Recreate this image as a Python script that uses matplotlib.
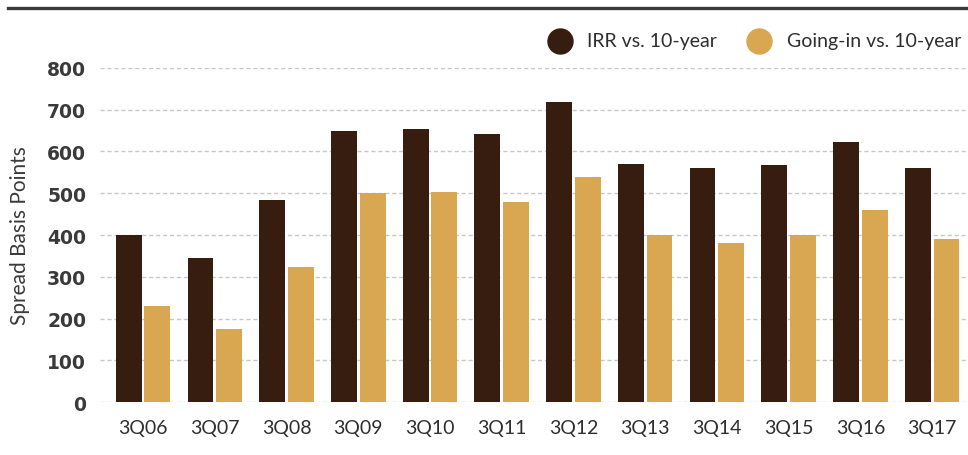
import matplotlib
matplotlib.use("Agg")
import matplotlib.pyplot as plt
import numpy as np
from matplotlib.lines import Line2D

quarters = ["3Q06", "3Q07", "3Q08", "3Q09", "3Q10", "3Q11",
            "3Q12", "3Q13", "3Q14", "3Q15", "3Q16", "3Q17"]
irr_spread = [400, 345, 485, 650, 654, 641, 718, 570, 561, 568, 622, 561]
going_in_spread = [230, 175, 324, 500, 503, 480, 538, 400, 381, 399, 461, 390]
y_ticks = [0, 100, 200, 300, 400, 500, 600, 700, 800]

DARK = "#371d0f"
GOLD = "#d9a652"
TEXT = "#2e2e2e"
LIGHT_FONT = ["Lato", "DejaVu Sans"]

fig = plt.figure(figsize=(9.68, 4.56), dpi=100)
ax = fig.add_axes([0.1033, 0.1162, 0.8967, 0.7325])

x = np.arange(len(quarters))
w = 0.36
gap = 0.02
ax.bar(x - w / 2 - gap, irr_spread, width=w, color=DARK, zorder=3)
ax.bar(x + w / 2 + gap, going_in_spread, width=w, color=GOLD, zorder=3)

ax.set_xlim(-0.6, 11.5)
ax.set_ylim(0, 800)
ax.set_yticks(y_ticks)
ax.set_yticklabels([str(v) for v in y_ticks], fontsize=13.5, fontweight="bold",
                   color="#3a3a3a", family="DejaVu Sans")
ax.set_xticks(x)
ax.set_xticklabels(quarters, fontsize=14, color=TEXT,
                   family=LIGHT_FONT, fontweight="normal")
ax.tick_params(axis="y", length=0, pad=10)
ax.tick_params(axis="x", length=0, pad=12)

for s in ax.spines.values():
    s.set_visible(False)
ax.yaxis.grid(True, linestyle=(0, (3, 2)), color="#c8c8c8", linewidth=1, zorder=0)
ax.set_axisbelow(True)

ax.set_ylabel("Spread Basis Points", fontsize=15, color="#3a3a3a",
              family=LIGHT_FONT, fontweight="normal", labelpad=12)

# heavy rule across the top
fig.add_artist(Line2D([0.008, 1.0], [0.98, 0.98], transform=fig.transFigure,
                      color="#3a3a3a", linewidth=2.4))

# legend: filled circles with labels
leg_y = 1 - 42 / 456
for cx, tx, col, label in [(560, 587, DARK, "IRR vs. 10-year"),
                           (759, 787, GOLD, "Going-in vs. 10-year")]:
    fig.add_artist(Line2D([cx / 968], [leg_y], transform=fig.transFigure,
                          marker="o", markersize=18, color=col, linestyle="none"))
    fig.text(tx / 968, leg_y, label, fontsize=14, color=TEXT,
             family=LIGHT_FONT, fontweight="normal", va="center", ha="left")

fig.savefig("out.png", dpi=100)
